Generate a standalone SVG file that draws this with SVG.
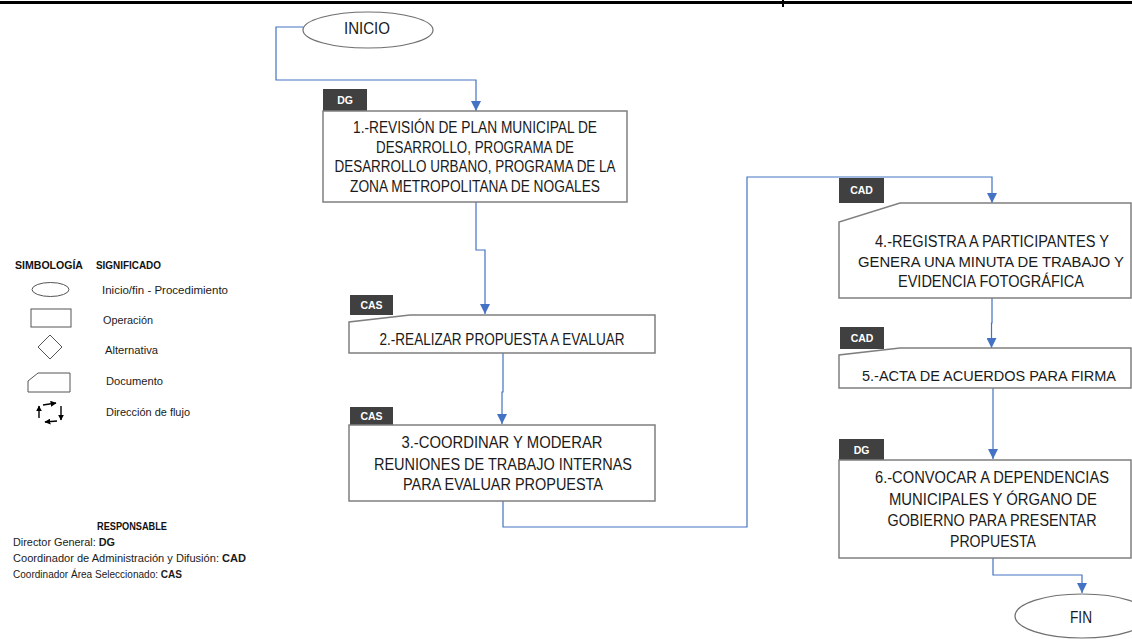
<svg xmlns="http://www.w3.org/2000/svg" width="1132" height="639" viewBox="0 0 1132 639">
  <defs>
    <marker id="arrow" markerUnits="userSpaceOnUse" markerWidth="10" markerHeight="10" viewBox="0 0 10 10" refX="10" refY="5" orient="auto">
      <path d="M0,0 L10,5 L0,10 z" fill="#4472c4"/>
    </marker>
    <marker id="smallArrow" markerUnits="userSpaceOnUse" markerWidth="6" markerHeight="6" viewBox="0 0 10 10" refX="9" refY="5" orient="auto">
      <path d="M0,0 L10,5 L0,10 z" fill="#000"/>
    </marker>
  </defs>
  <style>
    .box { fill: #fff; stroke: #7f7f7f; stroke-width: 1.5; }
    .term { fill: #fff; stroke: #6f6f6f; stroke-width: 1.2; }
    .tag { fill: #404040; }
    .tagtxt { font-family: "Liberation Sans", Arial, sans-serif; font-size: 10.5px; font-weight: bold; fill: #fff; text-anchor: middle; }
    .txt { font-family: "Liberation Sans", Arial, sans-serif; font-size: 16px; fill: #1a1a1a; text-anchor: middle; }
    .txt.tight { font-size: 14.5px; }
    .conn { fill: none; stroke: #4472c4; stroke-width: 1.2; marker-end: url(#arrow); }
    .leg { font-family: "Liberation Sans", Arial, sans-serif; font-size: 10px; fill: #1a1a1a; }
    .legb { font-family: "Liberation Sans", Arial, sans-serif; font-size: 10.5px; font-weight: bold; fill: #111; }
    .sym { fill: #fff; stroke: #555; stroke-width: 1; }
  </style>

  <rect x="0" y="0" width="1132" height="639" fill="#fff"/>

  <!-- page header rule -->
  <line x1="0" y1="2.5" x2="1132" y2="2.5" stroke="#000" stroke-width="3"/>
  <line x1="783" y1="0" x2="783" y2="7" stroke="#000" stroke-width="2"/>

  <!-- connectors -->
  <g id="connectors">
    <path class="conn" d="M303,27 H276 V80 H476 V111"/>
    <path class="conn" d="M476,202 V250 H485 V314"/>
    <path class="conn" d="M503,353 V392 H502 V424"/>
    <path class="conn" d="M503,501 V527 H747 V177 H992 V203"/>
    <path class="conn" d="M992,298 V323 H991.5 V348"/>
    <path class="conn" d="M993,388 V427 H993 V459"/>
    <path class="conn" d="M993,558 V575 H1082 V593"/>
  </g>

  <!-- start -->
  <g id="inicio">
    <ellipse class="term" cx="368" cy="30" rx="65" ry="18"/>
    <text class="txt" x="367" y="34" textLength="46" lengthAdjust="spacingAndGlyphs">INICIO</text>
  </g>

  <!-- step 1 -->
  <g id="paso1">
    <rect class="tag" x="323" y="89" width="44" height="23"/>
    <text class="tagtxt" x="345" y="104">DG</text>
    <rect class="box" x="323" y="111" width="304" height="91"/>
    <text class="txt" x="475" y="133" textLength="244" lengthAdjust="spacingAndGlyphs">1.-REVISIÓN DE PLAN MUNICIPAL DE</text>
    <text class="txt" x="475" y="153" textLength="198" lengthAdjust="spacingAndGlyphs">DESARROLLO, PROGRAMA DE</text>
    <text class="txt" x="475" y="172" textLength="281" lengthAdjust="spacingAndGlyphs">DESARROLLO URBANO, PROGRAMA DE LA</text>
    <text class="txt" x="475" y="192" textLength="250" lengthAdjust="spacingAndGlyphs">ZONA METROPOLITANA DE NOGALES</text>
  </g>

  <!-- step 2 -->
  <g id="paso2">
    <rect class="tag" x="350" y="295" width="43" height="20"/>
    <text class="tagtxt" x="371.5" y="309">CAS</text>
    <path class="box" d="M410,315 H655 V353 H349 V322 Z"/>
    <text class="txt" x="502" y="345" textLength="245" lengthAdjust="spacingAndGlyphs">2.-REALIZAR PROPUESTA A EVALUAR</text>
  </g>

  <!-- step 3 -->
  <g id="paso3">
    <rect class="tag" x="350" y="407" width="43" height="19"/>
    <text class="tagtxt" x="371.5" y="420">CAS</text>
    <rect class="box" x="349" y="425" width="306" height="76"/>
    <text class="txt" x="502" y="448" textLength="201" lengthAdjust="spacingAndGlyphs">3.-COORDINAR Y MODERAR</text>
    <text class="txt" x="503" y="470" textLength="258" lengthAdjust="spacingAndGlyphs">REUNIONES DE TRABAJO INTERNAS</text>
    <text class="txt" x="503" y="490" textLength="200" lengthAdjust="spacingAndGlyphs">PARA EVALUAR PROPUESTA</text>
  </g>

  <!-- step 4 -->
  <g id="paso4">
    <rect class="tag" x="839" y="178" width="45" height="25"/>
    <text class="tagtxt" x="861.5" y="194">CAD</text>
    <path class="box" d="M900,203 H1131 V298 H839 V222 Z"/>
    <text class="txt" x="992" y="247" textLength="234" lengthAdjust="spacingAndGlyphs">4.-REGISTRA A PARTICIPANTES Y</text>
    <text class="txt tight" x="991" y="267" textLength="266" lengthAdjust="spacingAndGlyphs">GENERA UNA MINUTA DE TRABAJO Y</text>
    <text class="txt" x="991" y="287" textLength="186" lengthAdjust="spacingAndGlyphs">EVIDENCIA FOTOGRÁFICA</text>
  </g>

  <!-- step 5 -->
  <g id="paso5">
    <rect class="tag" x="840" y="327" width="44" height="22"/>
    <text class="tagtxt" x="862" y="342">CAD</text>
    <path class="box" d="M900,348 H1131 V388 H839 V355 Z"/>
    <text class="txt tight" x="989" y="381" textLength="254" lengthAdjust="spacingAndGlyphs">5.-ACTA DE ACUERDOS PARA FIRMA</text>
  </g>

  <!-- step 6 -->
  <g id="paso6">
    <rect class="tag" x="839" y="439" width="45" height="21"/>
    <text class="tagtxt" x="861.5" y="454">DG</text>
    <rect class="box" x="839" y="460" width="292" height="98"/>
    <text class="txt" x="992" y="483" textLength="234" lengthAdjust="spacingAndGlyphs">6.-CONVOCAR A DEPENDENCIAS</text>
    <text class="txt" x="993" y="505" textLength="208" lengthAdjust="spacingAndGlyphs">MUNICIPALES Y ÓRGANO DE</text>
    <text class="txt" x="992" y="526" textLength="209" lengthAdjust="spacingAndGlyphs">GOBIERNO PARA PRESENTAR</text>
    <text class="txt" x="993" y="547" textLength="86" lengthAdjust="spacingAndGlyphs">PROPUESTA</text>
  </g>

  <!-- end -->
  <g id="fin">
    <ellipse class="term" cx="1082" cy="616" rx="67" ry="22"/>
    <text class="txt" x="1081" y="623" textLength="22" lengthAdjust="spacingAndGlyphs">FIN</text>
  </g>

  <!-- symbol legend -->
  <g id="simbologia">
    <text class="legb" x="15" y="269" textLength="68" lengthAdjust="spacingAndGlyphs">SIMBOLOGÍA</text>
    <text class="legb" x="96" y="269" textLength="65" lengthAdjust="spacingAndGlyphs">SIGNIFICADO</text>

    <ellipse class="sym" cx="50.5" cy="289.5" rx="18.5" ry="7"/>
    <text class="leg" x="102" y="294" textLength="126" lengthAdjust="spacingAndGlyphs">Inicio/fin - Procedimiento</text>

    <rect class="sym" x="31" y="309" width="40" height="18"/>
    <text class="leg" x="103" y="324" textLength="50" lengthAdjust="spacingAndGlyphs">Operación</text>

    <path class="sym" d="M50,335 L62,347 L50,359 L38,347 Z"/>
    <text class="leg" x="105" y="354" textLength="53" lengthAdjust="spacingAndGlyphs">Alternativa</text>

    <path class="sym" d="M38,373 H70 V392 H28 V381 Z"/>
    <text class="leg" x="106" y="385" textLength="57" lengthAdjust="spacingAndGlyphs">Documento</text>

    <g fill="none" stroke="#000" stroke-width="1.4">
      <path d="M43,405 L56,403" marker-end="url(#smallArrow)"/>
      <path d="M61,406 L61,420" marker-end="url(#smallArrow)"/>
      <path d="M57,421 L45,422" marker-end="url(#smallArrow)"/>
      <path d="M39,418 L39,406" marker-end="url(#smallArrow)"/>
    </g>
    <text class="leg" x="106" y="416" textLength="84" lengthAdjust="spacingAndGlyphs">Dirección de flujo</text>
  </g>

  <!-- responsible legend -->
  <g id="responsable">
    <text class="legb" x="97" y="530" textLength="70" lengthAdjust="spacingAndGlyphs">RESPONSABLE</text>
    <text class="leg" x="13" y="546" textLength="102" lengthAdjust="spacingAndGlyphs">Director General: <tspan font-weight="bold">DG</tspan></text>
    <text class="leg" x="13" y="562" textLength="233" lengthAdjust="spacingAndGlyphs">Coordinador de Administración y Difusión: <tspan font-weight="bold">CAD</tspan></text>
    <text class="leg" x="13" y="578" textLength="169" lengthAdjust="spacingAndGlyphs">Coordinador Área Seleccionado: <tspan font-weight="bold">CAS</tspan></text>
  </g>
</svg>
